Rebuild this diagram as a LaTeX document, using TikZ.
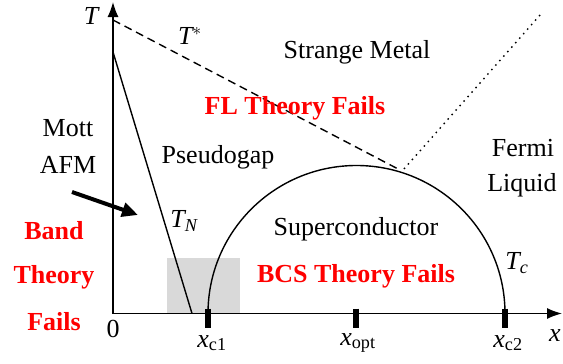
\documentclass[tikz,border=0pt]{standalone}
\usepackage{fontspec}
\setmainfont{Liberation Serif}
\usetikzlibrary{arrows.meta}
\definecolor{greyfill}{gray}{0.85}
\tikzset{
  lbl/.style={font=\fontsize{26}{30}\selectfont, inner sep=0pt},
  redlbl/.style={lbl, font=\fontsize{26}{30}\selectfont\bfseries, text=red},
  axis/.style={line width=1.4pt, -{Latex[length=15pt,width=11pt]}},
  curve/.style={line width=1.4pt},
  tick/.style={line width=5.5pt},
}
\begin{document}
\begin{tikzpicture}[x=1pt,y=-1pt]
\useasboundingbox (0,0) rectangle (563,364);
% shaded region
\fill[greyfill] (167,258) rectangle (240,313.5);
% coordinates
\coordinate (O) at (113,313.5);
\coordinate (ytip) at (113,2);
\coordinate (xtip) at (562,313.5);
\coordinate (tstar0) at (113,20);
\coordinate (tstar1) at (400,170);
\coordinate (dot0) at (404,169);
\coordinate (dot1) at (541,14);
\coordinate (tn0) at (113,52);
\coordinate (tn1) at (192,313.5);
\coordinate (xc1) at (208,313.5);
\coordinate (xopt) at (356,313.5);
\coordinate (xc2) at (505,313.5);
\coordinate (arr0) at (72,192);
\coordinate (arr1) at (138,215);
% axes
\draw[axis] (O) -- (ytip);
\draw[axis] (O) -- (xtip);
% lines
\draw[curve, dash pattern=on 8pt off 5pt] (tstar0) -- (tstar1);
\draw[curve, dash pattern=on 1.5pt off 4.5pt] (dot0) -- (dot1);
\draw[curve] (tn0) -- (tn1);
\draw[curve] (xc1) arc[start angle=180, end angle=360, x radius=148.5, y radius=148];
% ticks
\foreach \p in {xc1,xopt,xc2} \draw[tick] ([yshift=5pt]\p) -- ([yshift=-14pt]\p);
% arrow
\draw[line width=4pt, -{Triangle[length=16pt,width=14pt]}] (arr0) -- (arr1);
% labels
\node[lbl] (lT) at (91,16) {$\mathit{T}$};
\node[lbl] (lTs) at (190,36) {$\mathit{T}^{*}$};
\node[lbl] (lx) at (555,336) {$\mathit{x}$};
\node[lbl] (l0) at (113,329) {0};
\node[lbl] (lxc1) at (212,343) {$\mathit{x}_{\mathrm{c1}}$};
\node[lbl] (lxopt) at (358,343) {$\mathit{x}_{\mathrm{opt}}$};
\node[lbl] (lxc2) at (508,343) {$\mathit{x}_{\mathrm{c2}}$};
\node[lbl] (lTN) at (184,221) {$\mathit{T}_{\mathit{N}}$};
\node[lbl] (lTc) at (517,263) {$\mathit{T}_{\mathit{c}}$};
\node[lbl] (sm) at (357,52) {Strange Metal};
\node[redlbl] (fl) at (295,108) {FL Theory Fails};
\node[lbl] (mott) at (68,128) {Mott};
\node[lbl] (afm) at (68,165) {AFM};
\node[lbl] (pg) at (218,157) {Pseudogap};
\node[lbl] (fermi) at (523,148) {Fermi};
\node[lbl] (liq) at (522,185) {Liquid};
\node[lbl] (sc) at (356,229) {Superconductor};
\node[redlbl] (band) at (54,231) {Band};
\node[redlbl] (theory) at (54,277) {Theory};
\node[redlbl] (fails) at (54,322) {Fails};
\node[redlbl] (bcs) at (356,276) {BCS Theory Fails};
\end{tikzpicture}
\end{document}
